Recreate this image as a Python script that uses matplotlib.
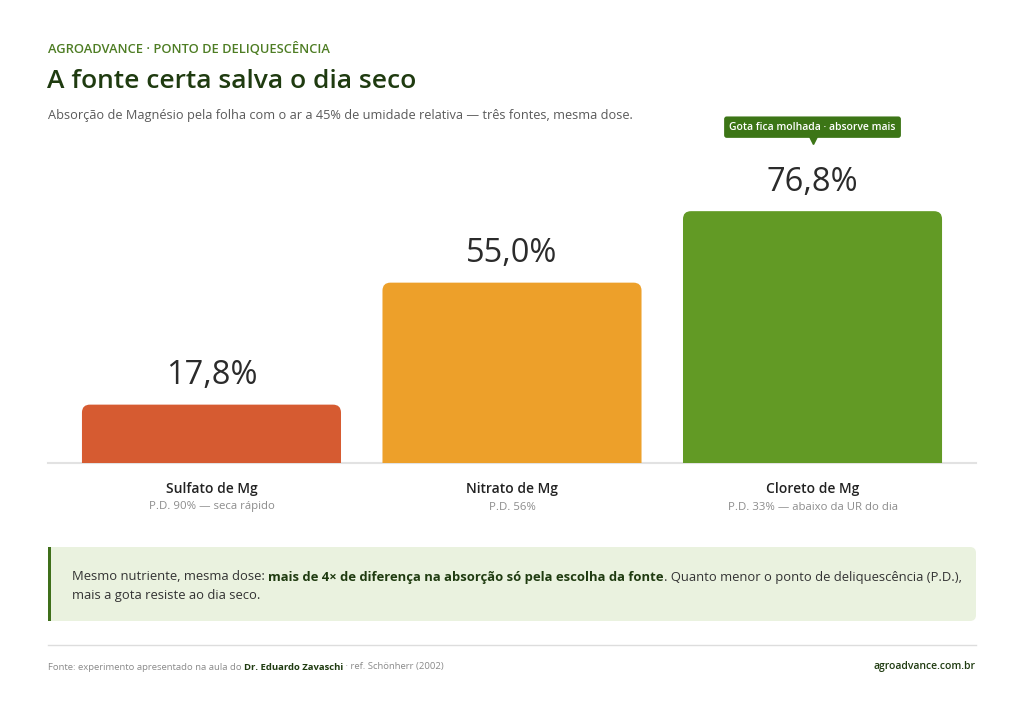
import matplotlib.pyplot as plt
from matplotlib.patches import FancyBboxPatch, Rectangle
from matplotlib.lines import Line2D
from matplotlib.transforms import offset_copy

plt.rcParams['font.family'] = ['Open Sans', 'DejaVu Sans']

# data
categories = ['Sulfato de Mg', 'Nitrato de Mg', 'Cloreto de Mg']
notes = ['P.D. 90% — seca rápido', 'P.D. 56%', 'P.D. 33% — abaixo da UR do dia']
absorption = [17.8, 55.0, 76.8]
bar_colors = ['#D65B31', '#EDA02A', '#629A25']
callout = 'Gota fica molhada · absorve mais'

W, H = 1024, 716
fig = plt.figure(figsize=(W / 100, H / 100), dpi=100)
fig.patch.set_facecolor('white')


def fx(x):
    return x / W


def fy(y):
    return 1 - y / H


def runs(x, y, parts, **kw):
    # draw text pieces one after another on the same line
    rend = fig.canvas.get_renderer()
    for s, style in parts:
        t = fig.text(fx(x), fy(y), s, ha='left', va='center', **kw, **style)
        x += t.get_window_extent(renderer=rend).width


# header
fig.text(fx(48), fy(49), 'AGROADVANCE · PONTO DE DELIQUESCÊNCIA', fontsize=9.3,
         fontweight='semibold', color='#4E7D24', va='center')
fig.text(fx(47), fy(82), 'A fonte certa salva o dia seco', fontsize=19,
         fontweight='semibold', color='#1F3B10', va='center')
fig.text(fx(48), fy(115), 'Absorção de Magnésio pela folha com o ar a 45% de umidade relativa — três fontes, mesma dose.',
         fontsize=9.2, color='#5A5A5A', va='center')

# chart
ax_top, ax_bot = 120, 463
ax = fig.add_axes([fx(48), fy(ax_bot), (976 - 48) / W, (ax_bot - ax_top) / H])
ax.set_xlim(-0.544, 2.544)
ax.set_ylim(0, 104.6)
ax.axis('off')

bw = 0.862
xr = 8 / 300.5
asp = (104.6 / (ax_bot - ax_top)) / (3.088 / 928)
ax.axhline(0, color='#E2E2E2', lw=1.5, zorder=0, clip_on=False)
for i, (v, c) in enumerate(zip(absorption, bar_colors)):
    ax.add_patch(FancyBboxPatch((i - bw / 2, -xr * asp), bw, v + xr * asp,
                                boxstyle=f'round,pad=0,rounding_size={xr}',
                                mutation_aspect=asp, fc=c, ec='none', zorder=2))
    ax.annotate(f'{v:.1f}%'.replace('.', ','), xy=(i, v), xytext=(0, 29),
                textcoords='offset pixels', ha='center', va='center',
                fontsize=23.5, fontweight='medium', color='#2B2B2B',
                annotation_clip=False)
    ax.annotate(categories[i], xy=(i, 0), xytext=(0, -26), textcoords='offset pixels',
                ha='center', va='center', fontsize=10, fontweight='semibold',
                color='#222222', annotation_clip=False)
    ax.annotate(notes[i], xy=(i, 0), xytext=(0, -44), textcoords='offset pixels',
                ha='center', va='center', fontsize=8.2, color='#8C8C8C',
                annotation_clip=False)

# callout on the best source
best = absorption.index(max(absorption))
ax.annotate(callout, xy=(best, absorption[best]), xytext=(0, 84),
            textcoords='offset pixels', ha='center', va='center', fontsize=7.5,
            fontweight='semibold', color='white', annotation_clip=False,
            bbox=dict(boxstyle='round,pad=0.5,rounding_size=0.25', fc='#3C7516', ec='none'))
tr = offset_copy(ax.transData, fig=fig, x=0, y=72, units='dots')
ax.plot([best], [absorption[best]], marker='v', ms=7, color='#3C7516',
        transform=tr, clip_on=False)

# note box
fig.add_artist(FancyBboxPatch((fx(48), fy(621)), (976 - 48) / W, (621 - 547) / H,
                              boxstyle=f'round,pad=0,rounding_size={6 / W}',
                              mutation_aspect=W / H, transform=fig.transFigure,
                              fc='#EAF2DF', ec='none'))
fig.add_artist(Rectangle((fx(48), fy(621)), 40 / W, (621 - 547) / H,
                         transform=fig.transFigure, fc='#EAF2DF', ec='none'))
fig.add_artist(Rectangle((fx(48), fy(621)), 3 / W, (621 - 547) / H,
                         transform=fig.transFigure, fc='#3F6F1A', ec='none'))
runs(72, 577, [('Mesmo nutriente, mesma dose: ', {'color': '#333333'}),
               ('mais de 4× de diferença na absorção só pela escolha da fonte',
                {'color': '#1F3B10', 'fontweight': 'bold'}),
               ('. Quanto menor o ponto de deliquescência (P.D.),', {'color': '#333333'})],
     fontsize=9.4)
runs(72, 595, [('mais a gota resiste ao dia seco.', {'color': '#333333'})], fontsize=9.4)

# footer
fig.add_artist(Line2D([fx(48), fx(976)], [fy(645), fy(645)], transform=fig.transFigure,
                      color='#DDDDDD', lw=1))
runs(48, 667, [('Fonte: experimento apresentado na aula do ', {'color': '#8A8A8A'}),
               ('Dr. Eduardo Zavaschi', {'color': '#1F3B10', 'fontweight': 'bold'}),
               (' · ref. Schönherr (2002)', {'color': '#8A8A8A'})], fontsize=6.8)
fig.text(fx(976), fy(667), 'agroadvance.com.br', ha='right', va='center', fontsize=7.5,
         fontweight='semibold', color='#1F3B10')

fig.savefig('out.png', dpi=100)
